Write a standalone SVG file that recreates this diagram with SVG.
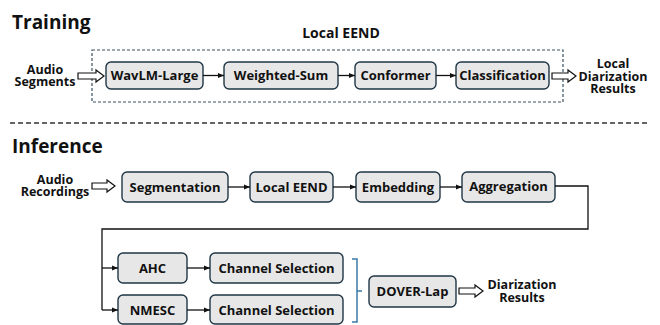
<svg xmlns="http://www.w3.org/2000/svg" width="660" height="325" viewBox="0 0 660 325">
<defs>
<marker id="ah" viewBox="0 0 10 10" refX="10" refY="5" markerWidth="5" markerHeight="5" orient="auto"><path d="M0,1 L10,5 L0,9 z" fill="#111"/></marker>
<style>
.box{fill:#e7e7e7;stroke:#1e3646;stroke-width:1.4}
.bt{font-family:"Open Sans","Noto Sans",sans-serif;font-weight:bold;font-size:13px;fill:#111;text-anchor:middle}
.lt{font-family:"Open Sans","Noto Sans",sans-serif;font-weight:bold;font-size:12.5px;fill:#111;text-anchor:middle}
.tt{font-family:"Open Sans","Noto Sans",sans-serif;font-weight:bold;font-size:19px;fill:#111}
.ln{fill:none;stroke:#111;stroke-width:1.3}
.ha{fill:#fff;stroke:#111;stroke-width:1.2}
</style>
</defs>
<rect width="660" height="325" fill="#fff"/>
<text class="tt" x="12" y="29">Training</text>
<text class="tt" x="12" y="153">Inference</text>
<text class="bt" x="341" y="38" style="font-size:14px">Local EEND</text>
<rect x="92" y="50" width="471" height="52" fill="none" stroke="#3a5060" stroke-width="1.2" stroke-dasharray="3 2"/>
<line x1="10" y1="123" x2="648" y2="123" stroke="#333" stroke-width="1.3" stroke-dasharray="5 3"/>

<g id="lbl-audio-seg"><text class="lt" x="45" y="74">Audio</text><text class="lt" x="45" y="86">Segments</text></g>
<g id="lbl-local-res"><text class="lt" x="613" y="67.5">Local</text><text class="lt" x="613" y="80.5">Diarization</text><text class="lt" x="613" y="93">Results</text></g>
<g id="lbl-audio-rec"><text class="lt" x="55" y="184">Audio</text><text class="lt" x="55" y="196">Recordings</text></g>
<g id="lbl-dia-res"><text class="lt" x="522" y="289">Diarization</text><text class="lt" x="522" y="302">Results</text></g>

<g id="wavlm"><rect class="box" x="106" y="62" width="97" height="27" rx="5"/><text class="bt" x="154.5" y="80">WavLM-Large</text></g>
<g id="wsum"><rect class="box" x="224" y="62" width="114" height="27" rx="5"/><text class="bt" x="281" y="80">Weighted-Sum</text></g>
<g id="conformer"><rect class="box" x="355" y="62" width="81" height="27" rx="5"/><text class="bt" x="395.5" y="80">Conformer</text></g>
<g id="classification"><rect class="box" x="456" y="62" width="93" height="27" rx="5"/><text class="bt" x="502.5" y="80">Classification</text></g>

<g id="segmentation"><rect class="box" x="122" y="172" width="106" height="30" rx="5"/><text class="bt" x="175" y="191.5">Segmentation</text></g>
<g id="localeend"><rect class="box" x="250" y="172" width="83" height="30" rx="5"/><text class="bt" x="291.5" y="191.5">Local EEND</text></g>
<g id="embedding"><rect class="box" x="356" y="172" width="84" height="30" rx="5"/><text class="bt" x="398" y="191.5">Embedding</text></g>
<g id="aggregation"><rect class="box" x="462" y="172" width="93" height="30" rx="5"/><text class="bt" x="508.5" y="190.5">Aggregation</text></g>

<g id="ahc"><rect class="box" x="118" y="253" width="69" height="30" rx="5"/><text class="bt" x="152.5" y="272.5">AHC</text></g>
<g id="nmesc"><rect class="box" x="118" y="295" width="69" height="29" rx="5"/><text class="bt" x="152.5" y="314.5">NMESC</text></g>
<g id="cs1"><rect class="box" x="210" y="253" width="133" height="30" rx="5"/><text class="bt" x="276.5" y="272.5">Channel Selection</text></g>
<g id="cs2"><rect class="box" x="210" y="295" width="133" height="29" rx="5"/><text class="bt" x="276.5" y="314.5">Channel Selection</text></g>
<g id="dover"><rect class="box" x="369" y="276" width="87" height="31" rx="5"/><text class="bt" x="412.5" y="296">DOVER-Lap</text></g>

<g id="connectors">
<polygon class="ha" points="78,73 96,73 96,70 104,76 96,82 96,79 78,79"/>
<polygon class="ha" points="552,73 568,73 568,70 576,76 568,82 568,79 552,79"/>
<polygon class="ha" points="92,183 107,183 107,180 115,186 107,192 107,189 92,189"/>
<polygon class="ha" points="459,288 475,288 475,285 483,291 475,297 475,294 459,294"/>
<line class="ln" x1="203" y1="75.5" x2="224" y2="75.5" marker-end="url(#ah)"/>
<line class="ln" x1="338" y1="75.5" x2="355" y2="75.5" marker-end="url(#ah)"/>
<line class="ln" x1="436" y1="75.5" x2="456" y2="75.5" marker-end="url(#ah)"/>
<line class="ln" x1="228" y1="187" x2="250" y2="187" marker-end="url(#ah)"/>
<line class="ln" x1="333" y1="187" x2="356" y2="187" marker-end="url(#ah)"/>
<line class="ln" x1="440" y1="187" x2="462" y2="187" marker-end="url(#ah)"/>
<polyline class="ln" points="555,186 588,186 588,229 102,229 102,310"/>
<line class="ln" x1="102" y1="268" x2="118" y2="268" marker-end="url(#ah)"/>
<line class="ln" x1="102" y1="310" x2="118" y2="310" marker-end="url(#ah)"/>
<line class="ln" x1="187" y1="268" x2="210" y2="268" marker-end="url(#ah)"/>
<line class="ln" x1="187" y1="310" x2="210" y2="310" marker-end="url(#ah)"/>
<path d="M352,259 H357 V322 H352 M357,291 H362" fill="none" stroke="#3b7aa8" stroke-width="1.5"/>
</g>
</svg>
